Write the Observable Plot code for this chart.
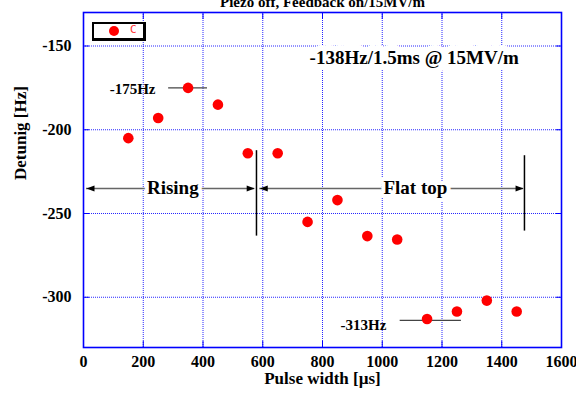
<!DOCTYPE html>
<html>
<head>
<meta charset="utf-8">
<script src="https://cdn.jsdelivr.net/npm/d3@7"></script>
<script src="https://cdn.jsdelivr.net/npm/@observablehq/plot@0.6"></script>
<style>
  html, body { margin: 0; padding: 0; background: #fff; }
  #wrap { position: relative; width: 576px; height: 394px; overflow: hidden; }
  #legend { position: absolute; left: 92px; top: 22px; width: 49px; height: 14px;
    border: 2px solid #000; border-right-width: 3px; border-bottom-width: 3px; background: #fff; }
  #legend .dot { position: absolute; left: 15px; top: 2px; width: 10px; height: 10px; border-radius: 50%; background: #ff0000; }
  #legend .lab { position: absolute; left: 36px; top: -1px; font: 11px "DejaVu Sans Mono", monospace; color: #ff3333; }
</style>
</head>
<body>
<div id="wrap"><div id="legend"><span class="dot"></span><span class="lab">C</span></div></div>
<script>
// ---- data ----
const pulseWidth = [150, 250, 350, 450, 550, 650, 750, 850, 950, 1050, 1150, 1250, 1350, 1450];
const detuning = [-205, -193, -175, -185, -214, -214, -255, -242, -263.5, -265.5, -313, -308.5, -302, -308.5];
const xTicks = [0, 200, 400, 600, 800, 1000, 1200, 1400, 1600];
const yTicks = [-150, -200, -250, -300];

// annotation arrows (double-headed), y level and ends
const arrowNames = ["Rising", "Flat top"];
const arrowStart = [10, 590];
const arrowEnd = [573, 1473];
const arrowLevel = -235;
const arrowLabelX = [299, 1111];
// vertical end bars
const barX = [579, 1476];
const barTop = [-212.5, -215.5];
const barBottom = [-263.5, -260.5];
// value call-outs
const calloutText = ["-175Hz", "-313Hz"];
const calloutTextX = [241, 1014];
const calloutTextY = [-175.5, -316.5];
const calloutLineX1 = [285, 1060];
const calloutLineX2 = [415, 1265];
const calloutLineY = [-175, -313.8];
const headline = "-138Hz/1.5ms @ 15MV/m";
const headlineX = 1107, headlineY = -157;
const title = "Piezo off, Feedback on/15MV/m";

const points = pulseWidth.map((x, i) => ({x, y: detuning[i]}));
const arrows = arrowNames.map((n, i) => ({n, x1: arrowStart[i], x2: arrowEnd[i], y: arrowLevel, lx: arrowLabelX[i]}));
const bars = barX.map((x, i) => ({x, y1: barTop[i], y2: barBottom[i]}));
const callouts = calloutText.map((t, i) => ({t, tx: calloutTextX[i], ty: calloutTextY[i], x1: calloutLineX1[i], x2: calloutLineX2[i], y: calloutLineY[i]}));

const headRight = {draw(ctx) { ctx.moveTo(0, 0); ctx.lineTo(-8, -3); ctx.lineTo(-8, 3); ctx.closePath(); }};
const headLeft = {draw(ctx) { ctx.moveTo(0, 0); ctx.lineTo(8, -3); ctx.lineTo(8, 3); ctx.closePath(); }};

const serif = "'Liberation Serif', 'Times New Roman', serif";
const blue = "#0000ff";

const chart = Plot.plot({
  width: 576, height: 394,
  marginLeft: 83, marginRight: 15, marginTop: 12, marginBottom: 47,
  style: {fontFamily: serif, fontWeight: "bold", fontSize: "16px", color: "#000", background: "#fff", overflow: "visible"},
  x: {domain: [0, 1600]},
  y: {domain: [-330, -130]},
  marks: [
    Plot.gridX(xTicks, {stroke: blue, strokeOpacity: 0.85, strokeDasharray: "1,1", strokeWidth: 1}),
    Plot.gridY(yTicks, {stroke: blue, strokeOpacity: 0.85, strokeDasharray: "1,1", strokeWidth: 1}),
    Plot.axisX(xTicks, {anchor: "bottom", tickSize: -6, tickFormat: () => "", stroke: blue, strokeWidth: 1}),
    Plot.axisX(xTicks, {anchor: "top", tickSize: -6, tickFormat: () => "", stroke: blue, strokeWidth: 1}),
    Plot.axisY(yTicks, {anchor: "left", tickSize: -6, tickFormat: () => "", stroke: blue, strokeWidth: 1}),
    Plot.axisY(yTicks, {anchor: "right", tickSize: -6, tickFormat: () => "", stroke: blue, strokeWidth: 1}),
    Plot.axisX(xTicks, {anchor: "bottom", tickSize: 0, tickPadding: 8, tickFormat: d => String(d), fontSize: 16, fontWeight: "bold", fill: "#000"}),
    Plot.axisY(yTicks, {anchor: "left", tickSize: 0, tickPadding: 12, tickFormat: d => String(d), fontSize: 16, fontWeight: "bold", fill: "#000"}),
    Plot.frame({stroke: blue, strokeWidth: 1.6}),
    // arrows
    Plot.ruleY(arrows, {x1: "x1", x2: "x2", y: "y", stroke: "#666", strokeWidth: 1.5}),
    Plot.dot(arrows, {x: "x2", y: "y", symbol: headRight, fill: "#000", stroke: null}),
    Plot.dot(arrows, {x: "x1", y: "y", symbol: headLeft, fill: "#000", stroke: null}),
    Plot.ruleX(bars, {x: "x", y1: "y1", y2: "y2", stroke: "#000", strokeWidth: 1.5}),
    Plot.text(arrows, {x: "lx", y: "y", text: "n", fontSize: 19, fontWeight: "bold", fill: "#000", stroke: "#fff", strokeWidth: 8}),
    // headline
    Plot.text([headline], {x: headlineX, y: headlineY, text: d => d, fontSize: 19, fontWeight: "bold", fill: "#000", stroke: "#fff", strokeWidth: 12}),
    // callouts
    Plot.ruleY(callouts, {x1: "x1", x2: "x2", y: "y", stroke: "#444", strokeWidth: 1.3}),
    Plot.text(callouts, {x: "tx", y: "ty", text: "t", textAnchor: "end", fontSize: 15, fontWeight: "bold", fill: "#000"}),
    // data
    Plot.dot(points, {x: "x", y: "y", r: 5.3, fill: "#ff0000", stroke: null}),
    // labels
    Plot.text([title], {frameAnchor: "top", dy: -16, text: d => d, fontSize: 15, fontWeight: "bold", fill: "#000"}),
    Plot.text(["Pulse width [\u00b5s]"], {frameAnchor: "bottom", dy: 36, text: d => d, fontSize: 17, fontWeight: "bold", fill: "#000"}),
    Plot.text(["Detunig [Hz]"], {frameAnchor: "left", dx: -63, rotate: -90, text: d => d, fontSize: 17, fontWeight: "bold", fill: "#000"})
  ]
});
document.getElementById("wrap").prepend(chart);
</script>
</body>
</html>
